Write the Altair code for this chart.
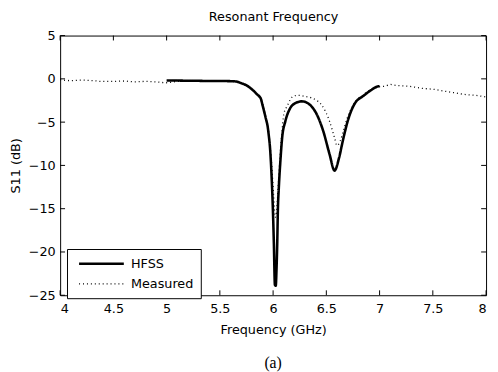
import altair as alt
import pandas as pd

# HFSS simulated S11 (solid)
hfss_x = [5.0, 5.1, 5.2, 5.3, 5.4, 5.5, 5.6, 5.65, 5.7, 5.75, 5.8, 5.85, 5.885, 5.9, 5.93,
          5.95, 5.96, 5.97, 5.986, 5.998, 6.007, 6.017, 6.025, 6.032, 6.039, 6.045, 6.054,
          6.069, 6.085, 6.115, 6.16, 6.21, 6.27, 6.346, 6.41, 6.47, 6.53, 6.577, 6.62,
          6.654, 6.70, 6.76, 6.855, 6.92, 6.977, 7.0]
hfss_y = [-0.2, -0.2, -0.22, -0.23, -0.25, -0.25, -0.27, -0.3, -0.5, -0.75, -1.2, -1.8, -2.3,
          -3.0, -4.5, -5.6, -6.6, -7.8, -11.3, -15.1, -18.9, -23.8, -23.9, -22.0, -18.9,
          -15.1, -12.5, -9.4, -6.8, -4.9, -3.4, -2.8, -2.6, -3.0, -4.1, -6.0, -8.7, -10.6,
          -9.1, -7.2, -4.9, -3.0, -1.9, -1.3, -0.9, -0.85]

# Measured S11 (dotted)
meas_x = [4.0, 4.1, 4.2, 4.3, 4.4, 4.5, 4.6, 4.7, 4.8, 4.9, 5.0, 5.1, 5.2, 5.3, 5.4, 5.5,
          5.6, 5.65, 5.7, 5.75, 5.8, 5.85, 5.9, 5.93, 5.95, 5.97, 5.99, 6.005, 6.02, 6.035,
          6.05, 6.065, 6.08, 6.10, 6.13, 6.19, 6.24, 6.285, 6.36, 6.41, 6.455, 6.53, 6.577,
          6.60, 6.63, 6.66, 6.70, 6.76, 6.85, 6.95, 7.0, 7.05, 7.1, 7.15, 7.2, 7.3, 7.4,
          7.5, 7.6, 7.7, 7.8, 7.9, 8.0]
meas_y = [-0.1, -0.2, -0.15, -0.2, -0.3, -0.3, -0.25, -0.35, -0.3, -0.35, -0.45, -0.3, -0.25,
          -0.3, -0.3, -0.25, -0.3, -0.35, -0.5, -0.75, -1.2, -1.8, -2.9, -4.3, -5.4, -7.4,
          -10.5, -13.5, -16.0, -15.0, -12.0, -9.0, -6.6, -4.1, -3.2, -2.0, -1.9, -2.0, -2.2,
          -2.5, -3.0, -4.9, -6.8, -7.7, -7.2, -6.0, -4.4, -2.9, -1.8, -1.1, -0.9, -0.85,
          -0.65, -0.75, -0.8, -0.9, -1.1, -1.2, -1.4, -1.6, -1.8, -1.9, -2.1]

series_names = ["HFSS", "Measured"]
x_ticks = [4, 4.5, 5, 5.5, 6, 6.5, 7, 7.5, 8]
y_ticks = [-25, -20, -15, -10, -5, 0, 5]

X_DOMAIN = [4, 8]
Y_DOMAIN = [-25, 5]
W, H = 433, 264
FONT = "DejaVu Sans"

df = pd.concat([
    pd.DataFrame({"freq": hfss_x, "s11": hfss_y, "series": series_names[0]}),
    pd.DataFrame({"freq": meas_x, "s11": meas_y, "series": series_names[1]}),
])

xs = alt.Scale(domain=X_DOMAIN, nice=False, zero=False)
ys = alt.Scale(domain=Y_DOMAIN, nice=False, zero=False)

y_axis = alt.Axis(values=y_ticks, format="~g", title="S11 (dB)", ticks=False,
                  domain=False, grid=False, labelPadding=5, titlePadding=6)

legend = alt.Legend(
    title=None, orient="none", legendX=7, legendY=217, symbolType="M-3.5,0H3.5",
    symbolSize=169, symbolStrokeColor="black", symbolFillColor="transparent",
    symbolOffset=20, labelOffset=22, labelFont=FONT, labelFontSize=13,
    labelColor="black", strokeColor="black", fillColor="white", padding=7,
    rowPadding=6,
)

lines = alt.Chart(df).mark_line(color="black", clip=True, interpolate="monotone").encode(
    x=alt.X("freq:Q", scale=xs,
            axis=alt.Axis(values=x_ticks, format="~g", title="Frequency (GHz)",
                          ticks=False, domain=False, grid=False, labelPadding=8,
                          titlePadding=8)),
    y=alt.Y("s11:Q", scale=ys, axis=y_axis),
    strokeDash=alt.StrokeDash("series:N", scale=alt.Scale(domain=series_names,
                                                          range=[[1, 0], [1, 3]]),
                              legend=legend),
    strokeWidth=alt.StrokeWidth("series:N", scale=alt.Scale(domain=series_names,
                                                            range=[2.6, 1.3]),
                                legend=legend),
    order="freq:Q",
)

tx = 5 * (X_DOMAIN[1] - X_DOMAIN[0]) / W
ty = 5 * (Y_DOMAIN[1] - Y_DOMAIN[0]) / H

xt = pd.DataFrame({"v": x_ticks})
yt = pd.DataFrame({"v": y_ticks})

bottom_ticks = alt.Chart(xt).mark_rule(color="black", strokeWidth=1).encode(
    x=alt.X("v:Q", scale=xs, axis=alt.Axis(orient="top", title="Resonant Frequency",
                                           labels=False, ticks=False, domain=False,
                                           grid=False, titlePadding=12)),
    y=alt.YDatum(Y_DOMAIN[0], scale=ys, axis=y_axis),
    y2=alt.datum(Y_DOMAIN[0] + ty),
)
top_ticks = alt.Chart(xt).mark_rule(color="black", strokeWidth=1).encode(
    x=alt.X("v:Q", scale=xs, axis=None),
    y=alt.YDatum(Y_DOMAIN[1], scale=ys, axis=y_axis),
    y2=alt.datum(Y_DOMAIN[1] - ty),
)
left_ticks = alt.Chart(yt).mark_rule(color="black", strokeWidth=1).encode(
    y=alt.Y("v:Q", scale=ys, axis=y_axis),
    x=alt.XDatum(X_DOMAIN[0], scale=xs, axis=None),
    x2=alt.datum(X_DOMAIN[0] + tx),
)
right_ticks = alt.Chart(yt).mark_rule(color="black", strokeWidth=1).encode(
    y=alt.Y("v:Q", scale=ys, axis=y_axis),
    x=alt.XDatum(X_DOMAIN[1], scale=xs, axis=None),
    x2=alt.datum(X_DOMAIN[1] - tx),
)

chart = alt.layer(bottom_ticks, top_ticks, left_ticks, right_ticks, lines).resolve_axis(
    x="independent"
).properties(
    width=W, height=H,
    title=alt.TitleParams("(a)", orient="bottom", font="Liberation Serif", fontSize=16,
                          fontWeight="normal", color="black", offset=19),
    autosize=alt.AutoSizeParams(type="none"),
    padding={"left": 53, "top": 25, "right": 4, "bottom": 75},
    background="white",
).configure_view(stroke="black", strokeWidth=1).configure_axis(
    labelFont=FONT, labelFontSize=13, labelColor="black", titleFont=FONT,
    titleFontSize=13, titleFontWeight="normal", titleColor="black",
)

chart.save("out.html", embed_options={"renderer": "svg", "actions": False})
